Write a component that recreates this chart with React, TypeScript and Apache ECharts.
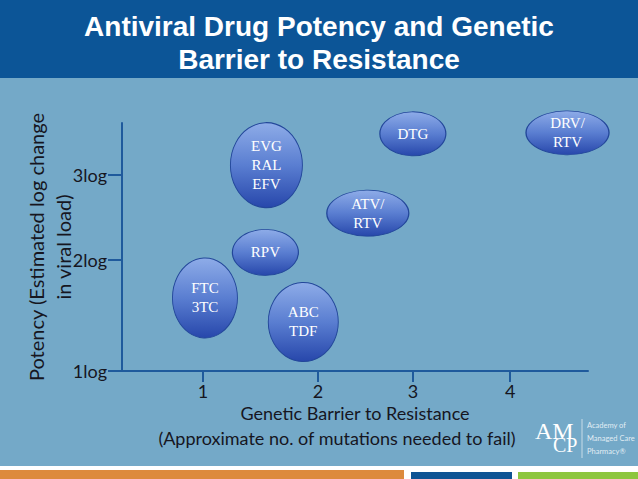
import React, { useEffect, useRef } from 'react';
import * as echarts from 'echarts';

// ---- data ----
const drugLabels = ['EVG\nRAL\nEFV', 'ATV/\nRTV', 'DTG', 'DRV/\nRTV', 'RPV', 'FTC\n3TC', 'ABC\nTDF'];
const geneticBarrier = [1.62, 2.61, 3.05, 4.56, 1.61, 1.02, 1.98];
const potency = [3.1, 2.61, 3.42, 3.43, 2.21, 1.745, 1.5];
const xTickValues = [1, 2.124, 3.052, 4];
const xTickLabels = ['1', '2', '3', '4'];
const yTickValues = [1, 2.133, 3];
const yTickLabels = ['1log', '2log', '3log'];

const titleText = 'Antiviral Drug Potency and Genetic\nBarrier to Resistance';
const yTitle = 'Potency (Estimated log change\nin viral load)';
const xTitle1 = 'Genetic Barrier to Resistance';
const xTitle2 = '(Approximate no. of mutations needed to fail)';

export default function App() {
  const ref = useRef<HTMLDivElement>(null);
  useEffect(() => {
    if (!ref.current) return;
    const chart = echarts.init(ref.current, undefined, { renderer: 'svg' });
    const bubbleSizes = [[72, 85], [82, 46], [66, 44], [83, 44], [66, 46], [65, 80], [70, 79]];
    const axisColor = '#1f5a9c';
    const textColor = '#16161f';
    const sans = 'Lato, "Open Sans", sans-serif';
    const serif = '"Liberation Serif", "DejaVu Serif", serif';
    const fill = {
      type: 'linear', x: 0, y: 0, x2: 0, y2: 1,
      colorStops: [
        { offset: 0, color: '#8eace8' },
        { offset: 0.5, color: '#5a7ed1' },
        { offset: 1, color: '#2747ab' },
      ],
    };
    const lab = (vals: number[], labels: string[]) => (v: number) => {
      let best = 0;
      vals.forEach((t, i) => { if (Math.abs(t - v) < Math.abs(vals[best] - v)) best = i; });
      return labels[best];
    };
    chart.setOption({
      animation: false,
      backgroundColor: '#74a9c8',
      title: {
        text: titleText,
        left: 'center',
        top: 5,
        textStyle: { color: '#ffffff', fontSize: 28, fontWeight: 'bold', fontFamily: '"Liberation Sans", Arial, sans-serif', lineHeight: 33 },
        z: 10,
      },
      grid: { left: 122, right: 50, top: 123, bottom: 108 },
      xAxis: {
        type: 'value', min: 0.21, max: 4.76,
        splitLine: { show: false },
        axisLine: { show: true, onZero: false, lineStyle: { color: axisColor, width: 2 } },
        axisTick: { show: true, customValues: xTickValues, length: 11, lineStyle: { color: axisColor, width: 2 } },
        axisLabel: { customValues: xTickValues, formatter: lab(xTickValues, xTickLabels), color: textColor, fontSize: 18, lineHeight: 14, fontFamily: sans, margin: 13 },
        name: '{a|' + xTitle1 + '}\n{b|' + xTitle2 + '}',
        nameLocation: 'middle',
        nameGap: 33,
        nameMoveOverlap: false,
        nameTextStyle: {
          color: textColor, fontSize: 18, fontFamily: sans,
          rich: {
            a: { color: textColor, fontSize: 18, fontFamily: sans, lineHeight: 18 },
            b: { color: textColor, fontSize: 18, fontFamily: sans, lineHeight: 32, padding: [0, 36, 0, 0] },
          },
        },
      },
      yAxis: {
        type: 'value', min: 1, max: 3.53,
        splitLine: { show: false },
        axisLine: { show: true, onZero: false, lineStyle: { color: axisColor, width: 2 } },
        axisTick: { show: true, customValues: yTickValues, length: 14, lineStyle: { color: axisColor, width: 2 } },
        axisLabel: { customValues: yTickValues, formatter: lab(yTickValues, yTickLabels), color: textColor, fontSize: 18, fontFamily: sans, margin: 15 },
        name: yTitle,
        nameLocation: 'middle',
        nameRotate: 90,
        nameGap: 46,
        nameMoveOverlap: false,
        nameTextStyle: { color: textColor, fontSize: 20, fontFamily: sans, lineHeight: 27 },
      },
      series: [{
        type: 'scatter',
        symbol: 'circle',
        data: drugLabels.map((n, i) => ({ name: n, value: [geneticBarrier[i], potency[i]], symbolSize: bubbleSizes[i] })),
        itemStyle: { color: fill, borderColor: '#23479a', borderWidth: 1, opacity: 1 },
        label: {
          show: true, position: 'inside', formatter: '{b}', color: '#ffffff',
          fontFamily: serif, fontSize: 15, lineHeight: 19,
        },
        emphasis: { disabled: true },
      }],
      graphic: [
        { type: 'rect', shape: { x: 0, y: 0, width: 638, height: 78 }, style: { fill: '#0c5597' }, z: 0 },
        { type: 'rect', shape: { x: 0, y: 466, width: 638, height: 13 }, style: { fill: '#ffffff' } },
        { type: 'rect', shape: { x: 0, y: 470, width: 404, height: 9 }, style: { fill: '#dd8a3c' } },
        { type: 'rect', shape: { x: 411, y: 472, width: 101, height: 7 }, style: { fill: '#0e5494' } },
        { type: 'rect', shape: { x: 518, y: 472, width: 120, height: 7 }, style: { fill: '#8dc63f' } },
        {
          type: 'text', x: 535, y: 424,
          style: {
            text: '{a|AM}\n{c|CP}', verticalAlign: 'top', align: 'left', fill: '#ffffff', fontFamily: serif,
            rich: {
              a: { fontSize: 24, lineHeight: 14, fill: '#ffffff', fontFamily: serif },
              c: { fontSize: 20, lineHeight: 14, fill: '#ffffff', fontFamily: serif, padding: [0, 0, 0, 18] },
            },
          },
        },
        { type: 'line', shape: { x1: 582, y1: 419, x2: 582, y2: 458 }, style: { stroke: 'rgba(255,255,255,0.6)', lineWidth: 1 } },
        { type: 'text', x: 587, y: 419, style: { text: 'Academy of\nManaged Care\nPharmacy®', fill: 'rgba(240,246,250,0.9)', fontSize: 7.5, lineHeight: 13, fontFamily: sans } },
      ],
    });
    return () => chart.dispose();
  }, []);
  return <div ref={ref} style={{ position: 'fixed', left: 0, top: 0, width: 638, height: 479 }} />;
}
